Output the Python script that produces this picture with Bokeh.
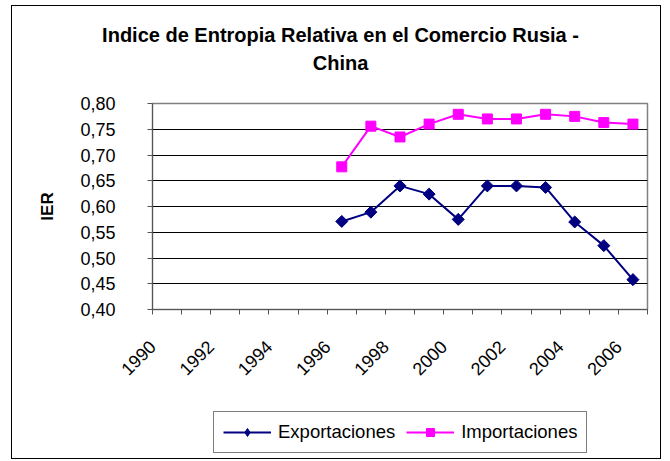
from math import pi
import numpy as np
from bokeh.plotting import figure
from bokeh.models import (Range1d, FixedTicker, CustomJSTickFormatter, Legend,
                          LegendItem, Label)
from bokeh.embed import file_html
from bokeh.resources import INLINE

# ---- data -------------------------------------------------------------
years = [1990, 1991, 1992, 1993, 1994, 1995, 1996, 1997, 1998,
         1999, 2000, 2001, 2002, 2003, 2004, 2005, 2006]
label_years = [1990, 1992, 1994, 1996, 1998, 2000, 2002, 2004, 2006]
data_years = [1996, 1997, 1998, 1999, 2000, 2001, 2002, 2003, 2004, 2005, 2006]
exportaciones = [0.571, 0.589, 0.640, 0.624, 0.575, 0.640, 0.640, 0.637, 0.570, 0.524, 0.458]
importaciones = [0.677, 0.756, 0.735, 0.760, 0.779, 0.770, 0.770, 0.779, 0.775, 0.763, 0.760]
y_ticks = [0.40, 0.45, 0.50, 0.55, 0.60, 0.65, 0.70, 0.75, 0.80]
title_lines = ["Indice de Entropia Relativa en el Comercio Rusia -", "China"]
series_names = ["Exportaciones", "Importaciones"]
y_label = "IER"

FONT = "Liberation Sans"
NAVY = "#000080"
MAGENTA = "#FF00FF"
W = 650
BORDER = "1px solid black"


def place(top, **extra):
    st = {"position": "absolute", "left": "11px", "top": f"{top}px",
          "border-left": BORDER, "border-right": BORDER,
          "border-top": "0", "border-bottom": "0"}
    st.update(extra)
    return st


def bare_figure(height, styles):
    f = figure(width=W, height=height, title=None, toolbar_location=None,
               output_backend="svg", x_axis_type=None, y_axis_type=None,
               min_border_left=0, min_border_right=0,
               min_border_top=0, min_border_bottom=0,
               x_range=Range1d(0, W), y_range=Range1d(0, height),
               styles=styles)
    f.outline_line_color = None
    f.outline_line_alpha = 0
    f.background_fill_color = "white"
    f.border_fill_color = "white"
    return f


# ---- title strip (canvas at page y 6..86) ------------------------------
TH = 80
t = bare_figure(TH, place(5, **{"border-top": BORDER}))
for text, yb in zip(title_lines, [TH - 28, TH - 56]):
    t.add_layout(Label(x=328, y=yb, text=text, text_align="center",
                       text_baseline="alphabetic", text_font=FONT,
                       text_font_style="bold", text_font_size="20px",
                       text_color="black"))

# ---- main chart (canvas at page y 82..405, overlapping the strip edge) --
p = figure(width=W, height=323, title=None, output_backend="svg", toolbar_location=None,
           x_range=Range1d(years[0] - 0.5, years[-1] + 0.5),
           y_range=Range1d(y_ticks[0], y_ticks[-1]),
           min_border_left=140, min_border_right=15,
           min_border_top=21, min_border_bottom=96,
           styles=place(82, **{"z-index": "2"}))
p.background_fill_color = "white"
p.border_fill_color = "white"
p.outline_line_color = "#808080"
p.outline_line_width = 1.5

# x axis (category style: ticks between categories)
label_shift = 0.5
label_pos = [y - label_shift for y in label_years]
boundaries = [y - 0.5 for y in years] + [years[-1] + 0.5]
xa = p.xaxis[0]
xa.ticker = FixedTicker(ticks=label_pos, minor_ticks=boundaries)
xa.major_label_overrides = {pos: str(y) for pos, y in zip(label_pos, label_years)}
xa.major_label_orientation = pi / 4
xa.major_tick_out = 0
xa.major_tick_in = 0
xa.minor_tick_out = 5
xa.minor_tick_in = 0
xa.axis_line_color = "#555555"
xa.minor_tick_line_color = "#555555"
xa.major_label_standoff = 29
xa.major_label_text_font = FONT
xa.major_label_text_font_size = "18px"
xa.major_label_text_color = "black"

# y axis
ya = p.yaxis[0]
ya.ticker = FixedTicker(ticks=y_ticks)
ya.formatter = CustomJSTickFormatter(code="return tick.toFixed(2).replace('.', ',');")
ya.major_tick_out = 5
ya.major_tick_in = 0
ya.minor_tick_out = 0
ya.minor_tick_in = 0
ya.axis_line_color = "#555555"
ya.major_tick_line_color = "#555555"
ya.major_label_standoff = 32
ya.major_label_text_font = FONT
ya.major_label_text_font_size = "18px"
ya.major_label_text_color = "black"
ya.axis_label = y_label
ya.axis_label_text_font = FONT
ya.axis_label_text_font_style = "bold"
ya.axis_label_text_font_size = "17px"
ya.axis_label_text_color = "black"
ya.axis_label_standoff = 20

p.xgrid.visible = False
p.ygrid.ticker = FixedTicker(ticks=y_ticks[1:-1])
p.ygrid.grid_line_color = "black"
p.ygrid.grid_line_width = 1

p.line(data_years, exportaciones, line_color=NAVY, line_width=2)
p.scatter(data_years, exportaciones, marker="square", angle=pi / 4, size=8.5,
          fill_color=NAVY, line_color=NAVY)
p.line(data_years, importaciones, line_color=MAGENTA, line_width=2)
p.scatter(data_years, importaciones, marker="square", size=10,
          fill_color=MAGENTA, line_color=MAGENTA)

# ---- legend strip (canvas at page y 405..459) --------------------------
LH = 54
q = bare_figure(LH, place(405, **{"border-bottom": BORDER}))
nan = np.array([np.nan])  # legend-only renderers: nothing drawn in the strip
l1 = q.line(x=nan, y=nan, line_color=NAVY, line_width=2)
m1 = q.scatter(x=nan, y=nan, marker="diamond", size=13, fill_color=NAVY, line_color=NAVY)
l2 = q.line(x=nan, y=nan, line_color=MAGENTA, line_width=2)
m2 = q.scatter(x=nan, y=nan, marker="square", size=9, fill_color=MAGENTA, line_color=MAGENTA)
legend = Legend(items=[LegendItem(label=series_names[0], renderers=[l1, m1]),
                       LegendItem(label=series_names[1], renderers=[l2, m2])],
                location=(201, 6), orientation="horizontal",
                glyph_width=48, glyph_height=20, label_standoff=7, spacing=11,
                padding=9, margin=0, border_line_color="black", border_line_width=1,
                label_text_font=FONT, label_text_font_size="18.5px",
                label_text_color="black", background_fill_color="white",
                background_fill_alpha=1)
q.add_layout(legend)

open("out.html", "w").write(file_html([t, p, q], INLINE))
